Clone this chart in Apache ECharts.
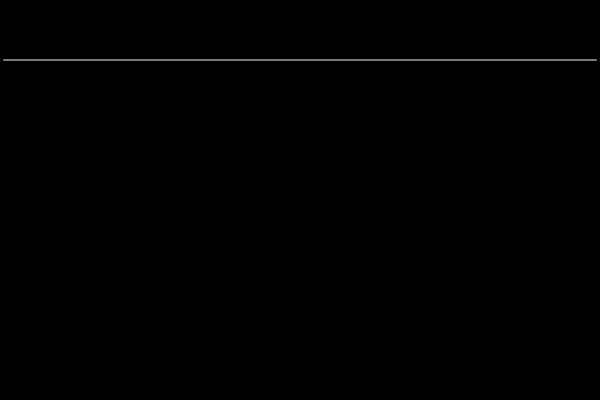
<!DOCTYPE html>
<html>
<head>
<meta charset="utf-8">
<style>
  html, body { margin: 0; padding: 0; background: #000; }
  #chart { width: 600px; height: 400px; }
</style>
<script src="https://cdn.jsdelivr.net/npm/echarts@6/dist/echarts.min.js"></script>
</head>
<body>
<div id="chart"></div>
<script>
  // nothing is plotted in the reference; only the top axis line shows
  const categories = ["A", "B", "C", "D", "E", "F"];
  const values = [null, null, null, null, null, null];

  const chart = echarts.init(document.getElementById("chart"), null, { renderer: "canvas" });

  chart.setOption({
    backgroundColor: "#000000",
    animation: false,
    grid: { left: 4, right: 4, top: 60, bottom: 0, containLabel: false },
    xAxis: {
      type: "category",
      position: "top",
      data: categories,
      boundaryGap: false,
      axisLine: { show: true, onZero: false, lineStyle: { color: "#7a7a7a", width: 2 } },
      axisTick: { show: false },
      axisLabel: { show: false },
      splitLine: { show: false }
    },
    yAxis: {
      type: "value",
      show: false,
      min: 0,
      max: 100,
      splitLine: { show: false }
    },
    series: [
      {
        type: "line",
        data: values,
        showSymbol: false,
        lineStyle: { color: "#7a7a7a", width: 2 }
      }
    ]
  });
</script>
</body>
</html>
